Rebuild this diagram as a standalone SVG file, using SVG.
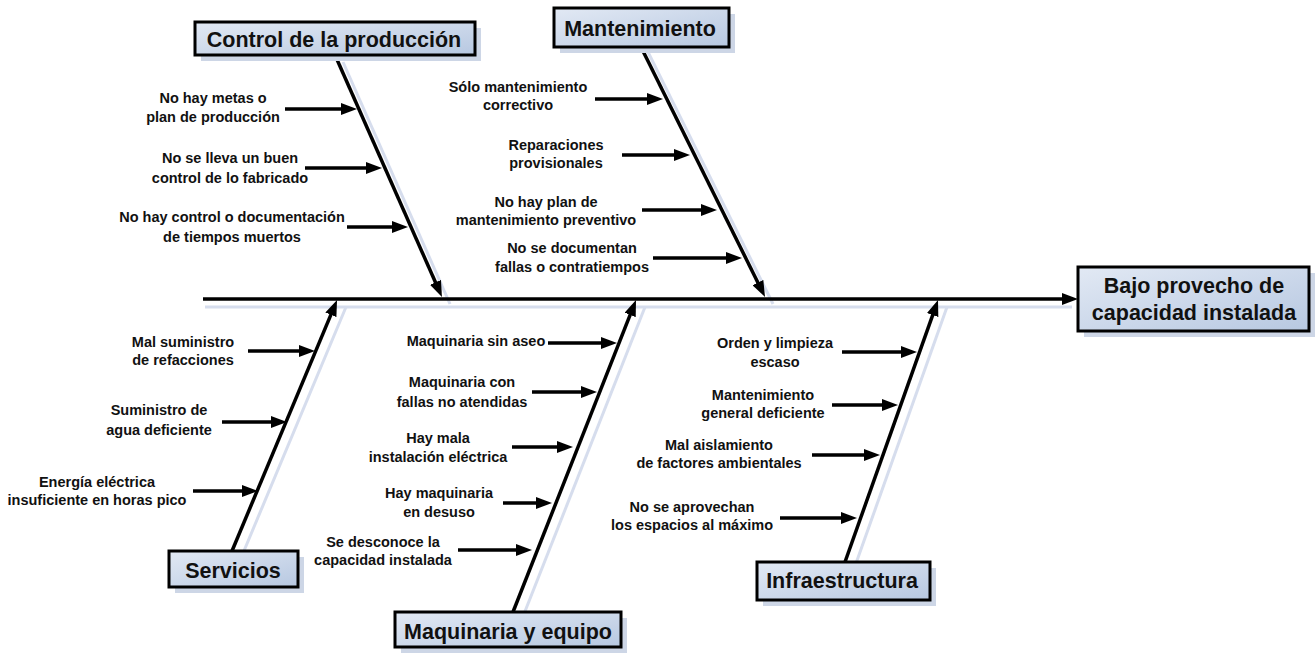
<svg xmlns="http://www.w3.org/2000/svg" width="1315" height="654" viewBox="0 0 1315 654">
<defs>
<linearGradient id="boxfill" x1="0" y1="0" x2="1" y2="1">
<stop offset="0" stop-color="#e2e9f4"/>
<stop offset="1" stop-color="#b7c8e1"/>
</linearGradient>
<marker id="ah" viewBox="0 0 16 12" refX="4" refY="6" markerWidth="16" markerHeight="12" markerUnits="userSpaceOnUse" orient="auto">
<path d="M0,0 L16,6 L0,12 z" fill="#000"/>
</marker>
<style>
.box{fill:url(#boxfill);stroke:#000;stroke-width:3}
.shadow{fill:#cdd6e6}
.title{font-family:"Liberation Sans",Arial,sans-serif;font-weight:bold;font-size:21.5px;fill:#111;text-anchor:middle}
.lbl{font-family:"Liberation Sans",Arial,sans-serif;font-weight:bold;font-size:14.5px;fill:#111;text-anchor:middle}
.arr{stroke:#000;stroke-width:3.5;fill:none;marker-end:url(#ah)}
.shl{stroke:#d6dded;stroke-width:3;fill:none}
</style>
</defs>
<rect width="1315" height="654" fill="#fff"/>

<g id="connectors">
<!-- shadows -->
<line class="shl" x1="205" y1="307" x2="1072" y2="307"/>
<line class="shl" x1="343" y1="62" x2="450" y2="304"/>
<line class="shl" x1="648" y1="52" x2="773" y2="304"/>
<line class="shl" x1="241" y1="558" x2="346" y2="307"/>
<line class="shl" x1="522" y1="619" x2="645" y2="307"/>
<line class="shl" x1="854" y1="569" x2="947" y2="307"/>
<!-- spine -->
<line class="arr" x1="203" y1="299" x2="1066" y2="299"/>
<!-- branches -->
<line class="arr" x1="335" y1="55" x2="437.1" y2="286"/>
<line class="arr" x1="640" y1="45" x2="759.7" y2="286.2"/>
<line class="arr" x1="232" y1="551" x2="332.4" y2="311.1"/>
<line class="arr" x1="513" y1="612" x2="631.6" y2="311.2"/>
<line class="arr" x1="845" y1="562" x2="934" y2="311.3"/>
<!-- control sub arrows -->
<line class="arr" x1="285" y1="109" x2="345" y2="109"/>
<line class="arr" x1="305" y1="168" x2="370" y2="168"/>
<line class="arr" x1="347" y1="227" x2="396" y2="227"/>
<!-- mantenimiento sub arrows -->
<line class="arr" x1="595" y1="99" x2="651" y2="99"/>
<line class="arr" x1="622" y1="155" x2="678" y2="155"/>
<line class="arr" x1="642" y1="210" x2="705" y2="210"/>
<line class="arr" x1="653" y1="258" x2="730" y2="258"/>
<!-- servicios sub arrows -->
<line class="arr" x1="248" y1="351" x2="303" y2="351"/>
<line class="arr" x1="222" y1="422" x2="275" y2="422"/>
<line class="arr" x1="193" y1="491" x2="246" y2="491"/>
<!-- maquinaria sub arrows -->
<line class="arr" x1="548" y1="343" x2="605" y2="343"/>
<line class="arr" x1="532" y1="392" x2="585" y2="392"/>
<line class="arr" x1="512" y1="447" x2="561" y2="447"/>
<line class="arr" x1="503" y1="503" x2="540" y2="503"/>
<line class="arr" x1="458" y1="550" x2="520" y2="550"/>
<!-- infraestructura sub arrows -->
<line class="arr" x1="842" y1="352" x2="905" y2="352"/>
<line class="arr" x1="832" y1="405" x2="886" y2="405"/>
<line class="arr" x1="812" y1="455" x2="868" y2="455"/>
<line class="arr" x1="780" y1="518" x2="845" y2="518"/>
</g>

<g id="effect">
<rect class="shadow" x="1084" y="273" width="231" height="64"/>
<rect class="box" x="1078" y="267" width="231" height="64"/>
<text class="title" x="1194" y="293">Bajo provecho de</text>
<text class="title" x="1194" y="320">capacidad instalada</text>
</g>

<g id="control">
<rect class="shadow" x="201" y="28" width="280" height="33"/>
<rect class="box" x="195" y="22" width="280" height="33"/>
<text class="title" x="334" y="47">Control de la producción</text>
<text class="lbl" x="213" y="103">No hay metas o</text>
<text class="lbl" x="213" y="122">plan de producción</text>
<text class="lbl" x="230" y="163">No se lleva un buen</text>
<text class="lbl" x="230" y="183">control de lo fabricado</text>
<text class="lbl" x="232" y="222">No hay control o documentación</text>
<text class="lbl" x="232" y="242">de tiempos muertos</text>
</g>

<g id="mantenimiento">
<rect class="shadow" x="560" y="14" width="175" height="39"/>
<rect class="box" x="554" y="8" width="175" height="39"/>
<text class="title" x="640" y="36">Mantenimiento</text>
<text class="lbl" x="518" y="92">Sólo mantenimiento</text>
<text class="lbl" x="518" y="110">correctivo</text>
<text class="lbl" x="556" y="150">Reparaciones</text>
<text class="lbl" x="556" y="168">provisionales</text>
<text class="lbl" x="546" y="207">No hay plan de</text>
<text class="lbl" x="546" y="225">mantenimiento preventivo</text>
<text class="lbl" x="572" y="253">No se documentan</text>
<text class="lbl" x="572" y="272">fallas o contratiempos</text>
</g>

<g id="servicios">
<rect class="shadow" x="175" y="557" width="129" height="36"/>
<rect class="box" x="169" y="551" width="129" height="36"/>
<text class="title" x="233" y="578">Servicios</text>
<text class="lbl" x="183" y="347">Mal suministro</text>
<text class="lbl" x="183" y="365">de refacciones</text>
<text class="lbl" x="159" y="415">Suministro de</text>
<text class="lbl" x="159" y="435">agua deficiente</text>
<text class="lbl" x="97" y="487">Energía eléctrica</text>
<text class="lbl" x="97" y="505">insuficiente en horas pico</text>
</g>

<g id="maquinaria">
<rect class="shadow" x="401" y="618" width="226" height="35"/>
<rect class="box" x="395" y="612" width="226" height="35"/>
<text class="title" x="508" y="639">Maquinaria y equipo</text>
<text class="lbl" x="476" y="346">Maquinaria sin aseo</text>
<text class="lbl" x="462" y="387">Maquinaria con</text>
<text class="lbl" x="462" y="407">fallas no atendidas</text>
<text class="lbl" x="438" y="443">Hay mala</text>
<text class="lbl" x="438" y="462">instalación eléctrica</text>
<text class="lbl" x="439" y="498">Hay maquinaria</text>
<text class="lbl" x="439" y="517">en desuso</text>
<text class="lbl" x="383" y="547">Se desconoce la</text>
<text class="lbl" x="383" y="565">capacidad instalada</text>
</g>

<g id="infraestructura">
<rect class="shadow" x="763" y="568" width="173" height="38"/>
<rect class="box" x="757" y="562" width="173" height="38"/>
<text class="title" x="842" y="588">Infraestructura</text>
<text class="lbl" x="775" y="348">Orden y limpieza</text>
<text class="lbl" x="775" y="367">escaso</text>
<text class="lbl" x="763" y="400">Mantenimiento</text>
<text class="lbl" x="763" y="418">general deficiente</text>
<text class="lbl" x="719" y="450">Mal aislamiento</text>
<text class="lbl" x="719" y="468">de factores ambientales</text>
<text class="lbl" x="692" y="512">No se aprovechan</text>
<text class="lbl" x="692" y="530">los espacios al máximo</text>
</g>
</svg>
